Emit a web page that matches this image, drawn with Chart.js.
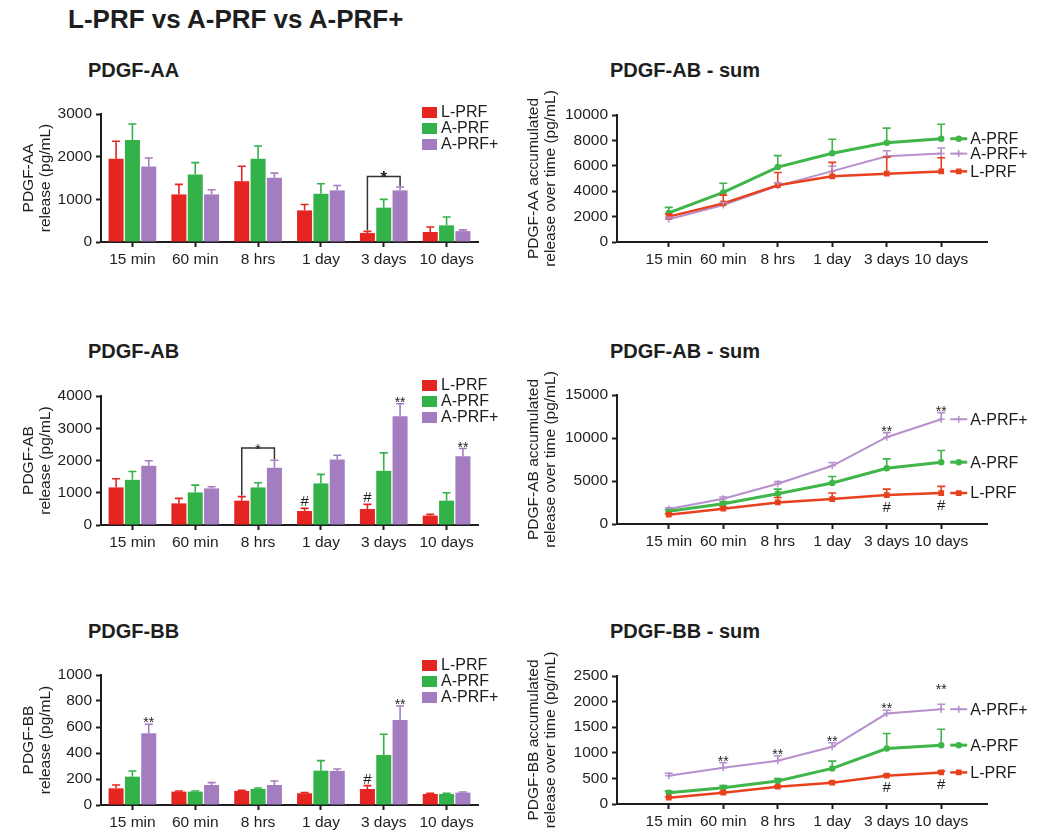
<!DOCTYPE html>
<html>
<head>
<meta charset="utf-8">
<script src="https://cdn.jsdelivr.net/npm/chart.js@4.4.0/dist/chart.umd.min.js"></script>
<style>
  html, body { margin: 0; padding: 0; background: #fff; }
  body { width: 1037px; height: 831px; position: relative; overflow: hidden; font-family: "Liberation Sans", Arial, sans-serif; color: #1e1e1e; }
  .t { position: absolute; font-weight: bold; white-space: nowrap; }
  canvas { position: absolute; }
</style>
</head>
<body>
<div class="t" style="left:68px;top:6px;font-size:26px;line-height:26px">L-PRF vs A-PRF vs A-PRF+</div>
<div class="t" style="left:88px;top:60px;font-size:20px;line-height:20px">PDGF-AA</div>
<div class="t" style="left:610px;top:60px;font-size:20px;line-height:20px">PDGF-AB - sum</div>
<div class="t" style="left:88px;top:341px;font-size:20px;line-height:20px">PDGF-AB</div>
<div class="t" style="left:610px;top:341px;font-size:20px;line-height:20px">PDGF-AB - sum</div>
<div class="t" style="left:88px;top:621px;font-size:20px;line-height:20px">PDGF-BB</div>
<div class="t" style="left:610px;top:621px;font-size:20px;line-height:20px">PDGF-BB - sum</div>

<canvas id="aa" width="500" height="198" style="left:0;top:84px"></canvas>
<canvas id="aaSum" width="527" height="197" style="left:510px;top:85px"></canvas>
<canvas id="ab" width="500" height="199" style="left:0;top:366px"></canvas>
<canvas id="abSum" width="527" height="199" style="left:510px;top:365px"></canvas>
<canvas id="bb" width="500" height="200" style="left:0;top:645px"></canvas>
<canvas id="bbSum" width="527" height="198" style="left:510px;top:646px"></canvas>

<script>
// time points and groups
const categories = ["15 min", "60 min", "8 hrs", "1 day", "3 days", "10 days"];
const groups = ["L-PRF", "A-PRF", "A-PRF+"];

// PDGF-AA release (pg/mL), mean and upper error
const aaL = [1950, 1115, 1425, 740, 210, 235];
const aaLErr = [410, 235, 350, 140, 40, 115];
const aaA = [2390, 1580, 1950, 1130, 805, 390];
const aaAErr = [375, 280, 300, 235, 195, 195];
const aaAp = [1770, 1115, 1505, 1210, 1210, 255];
const aaApErr = [200, 110, 110, 115, 80, 30];

// PDGF-AA accumulated
const aaSumL = [2000, 3040, 4470, 5170, 5380, 5560];
const aaSumLErr = [200, 650, 1000, 1100, 1300, 1070];
const aaSumA = [2290, 3900, 5900, 6990, 7820, 8130];
const aaSumAErr = [440, 730, 900, 1100, 1150, 1140];
const aaSumAp = [1790, 2910, 4420, 5580, 6750, 6960];
const aaSumApErr = [150, 200, 250, 390, 440, 440];

// PDGF-AB release
const abL = [1165, 670, 755, 435, 495, 290];
const abLErr = [270, 155, 125, 80, 145, 40];
const abA = [1400, 1010, 1165, 1290, 1680, 755];
const abAErr = [260, 225, 145, 280, 555, 245];
const abAp = [1835, 1135, 1775, 2030, 3370, 2135];
const abApErr = [155, 50, 235, 135, 390, 235];

// PDGF-AB accumulated
const abSumL = [1080, 1780, 2510, 2900, 3360, 3600];
const abSumLErr = [100, 200, 580, 700, 700, 770];
const abSumA = [1470, 2360, 3520, 4760, 6490, 7190];
const abSumAErr = [150, 250, 540, 770, 1080, 1350];
const abSumAp = [1740, 2940, 4680, 6770, 10090, 12180];
const abSumApErr = [150, 200, 250, 380, 540, 770];

// PDGF-BB release
const bbL = [128, 103, 108, 90, 123, 85];
const bbLErr = [26, 5, 5, 5, 26, 5];
const bbA = [218, 103, 123, 264, 385, 85];
const bbAErr = [44, 5, 8, 77, 159, 5];
const bbAp = [551, 154, 154, 262, 654, 95];
const bbApErr = [70, 18, 31, 15, 108, 5];

// PDGF-BB accumulated
const bbSumL = [123, 221, 338, 416, 552, 617];
const bbSumLErr = [15, 15, 15, 20, 25, 25];
const bbSumA = [221, 318, 448, 695, 1084, 1149];
const bbSumAErr = [30, 40, 50, 143, 293, 312];
const bbSumAp = [552, 708, 844, 1117, 1766, 1851];
const bbSumApErr = [50, 97, 98, 78, 65, 97];

const FONT = "'Liberation Sans', Arial, sans-serif";
const ink = "#1e1e1e";
const barColors = ["#e52521", "#33b24a", "#a47cc0"];
const lineColors = ["#e8411e", "#3fb54a", "#b590cd"];
const TXT = 15.5;

Chart.defaults.font.family = FONT;
Chart.defaults.color = ink;

// error bars, significance marks, legends, line-end labels
const extras = {
  id: "extras",
  afterDatasetsDraw(chart, args, o) {
    const ctx = chart.ctx;
    const ys = chart.scales.y;
    const el = (d, i) => chart.getDatasetMeta(d).data[i];
    const top = (d, i) => {
      const ds = chart.data.datasets[d];
      return ys.getPixelForValue(ds.vals[i] + ds.errors[i]);
    };
    ctx.save();
    chart.data.datasets.forEach((ds, d) => {
      ctx.strokeStyle = ds.errColor;
      ctx.lineWidth = 1.6;
      chart.getDatasetMeta(d).data.forEach((p, i) => {
        const t = top(d, i);
        ctx.beginPath();
        ctx.moveTo(p.x, p.y);
        ctx.lineTo(p.x, t);
        ctx.moveTo(p.x - 4, t);
        ctx.lineTo(p.x + 4, t);
        ctx.stroke();
      });
    });
    ctx.fillStyle = ink;
    ctx.textAlign = "center";
    (o.brackets || []).forEach((b) => {
      const a = el(b.from, b.i), c = el(b.to, b.i);
      const yl = ys.getPixelForValue(b.level);
      ctx.strokeStyle = "#333";
      ctx.lineWidth = 1.5;
      ctx.beginPath();
      ctx.moveTo(a.x, top(b.from, b.i) - 1);
      ctx.lineTo(a.x, yl);
      ctx.lineTo(c.x, yl);
      ctx.lineTo(c.x, top(b.to, b.i) - 1);
      ctx.stroke();
      ctx.font = b.font;
      ctx.textBaseline = "alphabetic";
      ctx.fillText(b.t, (a.x + c.x) / 2, yl + 6);
    });
    (o.marks || []).forEach((m) => {
      const p = el(m.d, m.i);
      const star = m.t.includes("*");
      ctx.font = (star ? "14px " : "15px ") + FONT;
      if (m.below) {
        ctx.textBaseline = "top";
        ctx.fillText(m.t, p.x, p.y + 5);
      } else {
        ctx.textBaseline = "alphabetic";
        ctx.fillText(m.t, p.x, top(m.d, m.i) + (star ? 3 : -2) - (m.dy || 0));
      }
    });
    ctx.restore();
  },
  afterDraw(chart, args, o) {
    const ctx = chart.ctx;
    ctx.save();
    ctx.font = "16px " + FONT;
    ctx.textBaseline = "middle";
    ctx.textAlign = "left";
    if (o.legend) {
      chart.data.datasets.forEach((ds, d) => {
        const y = o.legend.y + d * 16;
        ctx.fillStyle = ds.backgroundColor;
        ctx.fillRect(o.legend.x, y, 15, 11);
        ctx.fillStyle = ink;
        ctx.fillText(ds.label, o.legend.x + 19, y + 6);
      });
    }
    if (o.endLabels) {
      chart.data.datasets.forEach((ds, d) => {
        const pts = chart.getDatasetMeta(d).data;
        const p = pts[pts.length - 1];
        ctx.strokeStyle = ds.borderColor;
        ctx.lineWidth = ds.borderWidth;
        ctx.beginPath();
        ctx.moveTo(p.x + 9, p.y);
        ctx.lineTo(p.x + 26, p.y);
        ctx.stroke();
        ctx.fillStyle = ds.pointBackgroundColor;
        ctx.lineWidth = 1.5;
        Chart.helpers.drawPoint(ctx, { pointStyle: ds.pointStyle, radius: ds.pointRadius, rotation: 0, borderWidth: 1.5 }, p.x + 17.5, p.y);
        ctx.fillStyle = ink;
        ctx.fillText(ds.label, p.x + 29, p.y + 1);
      });
    }
    ctx.restore();
  },
};

function yAxis(max, step, title, width, pad) {
  return {
    min: 0,
    max: max,
    border: { color: ink, width: 2 },
    grid: { drawOnChartArea: false, tickLength: 5, tickWidth: 2, tickColor: ink },
    ticks: { stepSize: step, padding: 4, color: ink, font: { size: TXT }, callback: (v) => String(v) },
    title: { display: true, text: title, color: ink, font: { size: TXT, lineHeight: 1.1 }, padding: { top: pad, bottom: 0 } },
    afterFit: (s) => { s.width = width; },
  };
}

function barChart(id, series, errs, max, step, title, legendY, marks, brackets) {
  return new Chart(document.getElementById(id), {
    type: "bar",
    data: {
      labels: categories,
      datasets: series.map((vals, d) => ({
        label: groups[d],
        data: vals,
        vals: vals,
        errors: errs[d],
        backgroundColor: barColors[d],
        errColor: barColors[d],
        borderWidth: 0,
        barPercentage: 0.92,
        categoryPercentage: 0.78,
      })),
    },
    options: {
      responsive: false,
      animation: false,
      layout: { padding: { top: 30, right: 22, left: 0, bottom: 0 } },
      scales: {
        x: {
          grid: { offset: false, drawOnChartArea: false, tickLength: 5, tickWidth: 2, tickColor: ink },
          border: { color: ink, width: 2 },
          ticks: { padding: 3, color: ink, font: { size: TXT }, maxRotation: 0, autoSkip: false },
          afterFit: (s) => { s.height = 40; },
        },
        y: yAxis(max, step, title, 101, 20),
      },
      plugins: {
        legend: { display: false },
        tooltip: { enabled: false },
        extras: { legend: { x: 422, y: legendY }, marks: marks, brackets: brackets },
      },
    },
    plugins: [extras],
  });
}

const pointStyles = ["rect", "circle", "cross"];
const lineWidths = [2.5, 3, 2];
const pointSizes = [3, 2.5, 3.5];

function sumChart(id, series, errs, max, step, title, marks) {
  return new Chart(document.getElementById(id), {
    type: "line",
    data: {
      datasets: series.map((vals, d) => ({
        label: groups[d],
        data: vals.map((v, i) => ({ x: i + 1, y: v })),
        vals: vals,
        errors: errs[d],
        borderColor: lineColors[d],
        backgroundColor: lineColors[d],
        pointBackgroundColor: lineColors[d],
        pointBorderColor: lineColors[d],
        errColor: lineColors[d],
        borderWidth: lineWidths[d],
        pointStyle: pointStyles[d],
        pointRadius: pointSizes[d],
        pointBorderWidth: 1.5,
        tension: 0,
      })),
    },
    options: {
      responsive: false,
      animation: false,
      layout: { padding: { top: 30, right: 50, left: 0, bottom: 0 } },
      scales: {
        x: {
          type: "linear",
          min: 0.05,
          max: 6.84,
          afterBuildTicks: (s) => { s.ticks = categories.map((c, i) => ({ value: i + 1 })); },
          grid: { drawOnChartArea: false, tickLength: 5, tickWidth: 2, tickColor: ink },
          border: { color: ink, width: 2 },
          ticks: { padding: 3, color: ink, font: { size: TXT }, maxRotation: 0, autoSkip: false, callback: (v) => categories[v - 1] },
          afterFit: (s) => { s.height = 40; },
        },
        y: yAxis(max, step, title, 107, 15),
      },
      plugins: {
        legend: { display: false },
        tooltip: { enabled: false },
        extras: { endLabels: true, marks: marks },
      },
    },
    plugins: [extras],
  });
}

barChart("aa", [aaL, aaA, aaAp], [aaLErr, aaAErr, aaApErr], 3000, 1000,
  ["PDGF-AA", "release (pg/mL)"], 23, [],
  [{ i: 4, from: 0, to: 2, level: 1535, t: "*", font: "bold 17px " + FONT }]);

sumChart("aaSum", [aaSumL, aaSumA, aaSumAp], [aaSumLErr, aaSumAErr, aaSumApErr], 10000, 2000,
  ["PDGF-AA accumulated", "release over time (pg/mL)"], []);

barChart("ab", [abL, abA, abAp], [abLErr, abAErr, abApErr], 4000, 1000,
  ["PDGF-AB", "release (pg/mL)"], 14,
  [{ d: 0, i: 3, t: "#" }, { d: 0, i: 4, t: "#" }, { d: 2, i: 4, t: "**" }, { d: 2, i: 5, t: "**" }],
  [{ i: 2, from: 0, to: 2, level: 2390, t: "*", font: "14px " + FONT }]);

sumChart("abSum", [abSumL, abSumA, abSumAp], [abSumLErr, abSumAErr, abSumApErr], 15000, 5000,
  ["PDGF-AB accumulated", "release over time (pg/mL)"],
  [{ d: 2, i: 4, t: "**" }, { d: 2, i: 5, t: "**" }, { d: 0, i: 4, t: "#", below: true }, { d: 0, i: 5, t: "#", below: true }]);

barChart("bb", [bbL, bbA, bbAp], [bbLErr, bbAErr, bbApErr], 1000, 200,
  ["PDGF-BB", "release (pg/mL)"], 15,
  [{ d: 2, i: 0, t: "**" }, { d: 2, i: 4, t: "**" }, { d: 0, i: 4, t: "#" }], []);

sumChart("bbSum", [bbSumL, bbSumA, bbSumAp], [bbSumLErr, bbSumAErr, bbSumApErr], 2500, 500,
  ["PDGF-BB accumulated", "release over time (pg/mL)"],
  [{ d: 2, i: 1, t: "**" }, { d: 2, i: 2, t: "**" }, { d: 2, i: 3, t: "**" }, { d: 2, i: 4, t: "**" },
   { d: 2, i: 5, t: "**", dy: 13 }, { d: 0, i: 4, t: "#", below: true }, { d: 0, i: 5, t: "#", below: true }]);
</script>
</body>
</html>
